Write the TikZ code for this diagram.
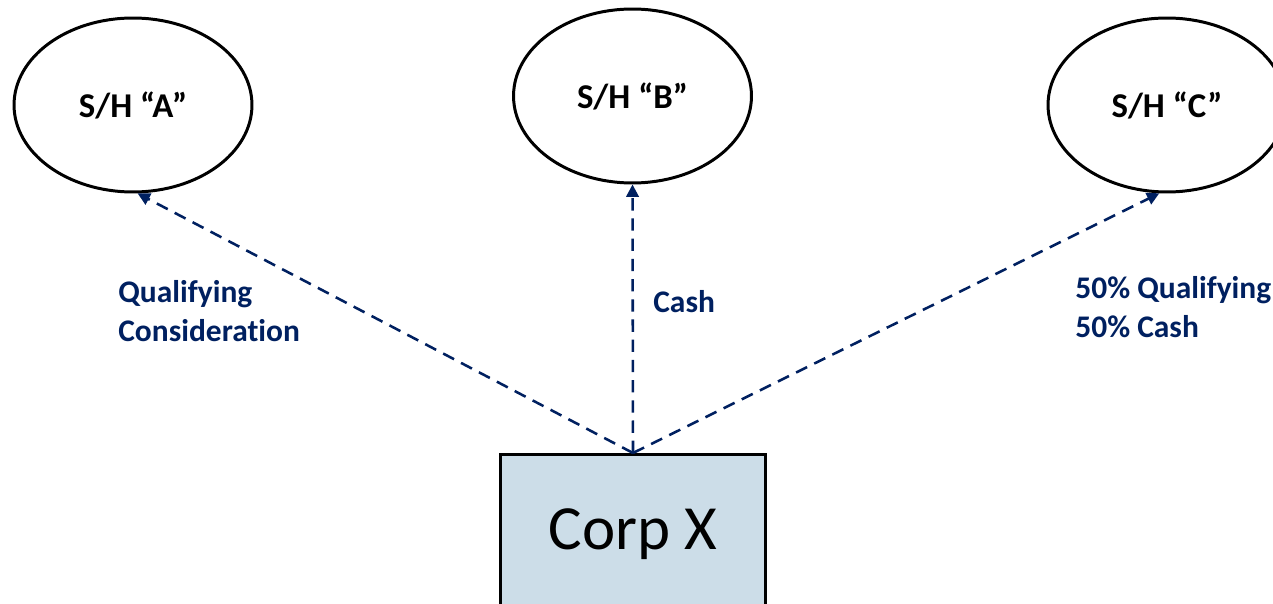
\documentclass[tikz,border=0pt]{standalone}
\usepackage{fontspec}
\setmainfont{Carlito}[Ligatures=NoCommon]
\usetikzlibrary{arrows.meta,shapes.geometric}

\definecolor{navy}{RGB}{0,32,96}
\definecolor{boxblue}{RGB}{204,221,232}

\tikzset{
  holder/.style={draw=black, line width=1.7pt, ellipse, inner sep=0pt,
    minimum width=4.76cm, minimum height=3.48cm,
    font=\bfseries\fontsize{19.8}{23}\selectfont},
  flow/.style={draw=navy, line width=1.45pt, dash pattern=on 7pt off 4.5pt,
    -{Triangle[length=7pt,width=7pt]}},
  flowlabel/.style={text=navy, anchor=north west, inner sep=0pt, align=left,
    font=\bfseries\fontsize{17.9}{22.5}\selectfont},
}

\begin{document}
\begin{tikzpicture}[x=0.02cm, y=-0.02cm]
  \useasboundingbox (0,0) rectangle (1273,604);

  % shareholders
  \node[holder] (sha) at (133,105) {S/H “A”};
  \node[holder] (shb) at (632.5,96) {S/H “B”};
  \node[holder] (shc) at (1167,105) {S/H “C”};

  % the corporation
  \node[draw=black, fill=boxblue, line width=1.7pt, anchor=north,
        minimum width=5.32cm, minimum height=4cm, inner sep=0pt]
        (corp) at (633,453) {};
  \node[font=\fontsize{35.8}{40}\selectfont, inner sep=0pt] (corpname)
        at (633,534) {Corp X};

  % distributions
  \draw[flow] (corp.north) -- (sha.-87);
  \draw[flow] (corp.north) -- (shb.south);
  \draw[flow] (corp.north) -- (shc.-95);

  % labels
  \node[flowlabel] (lbla) at (118,280) {Qualifying\\Consideration};
  \node[flowlabel] (lblb) at (653,290) {Cash};
  \node[flowlabel] (lblc) at (1075,276) {50\% Qualifying\\50\% Cash};
\end{tikzpicture}
\end{document}
